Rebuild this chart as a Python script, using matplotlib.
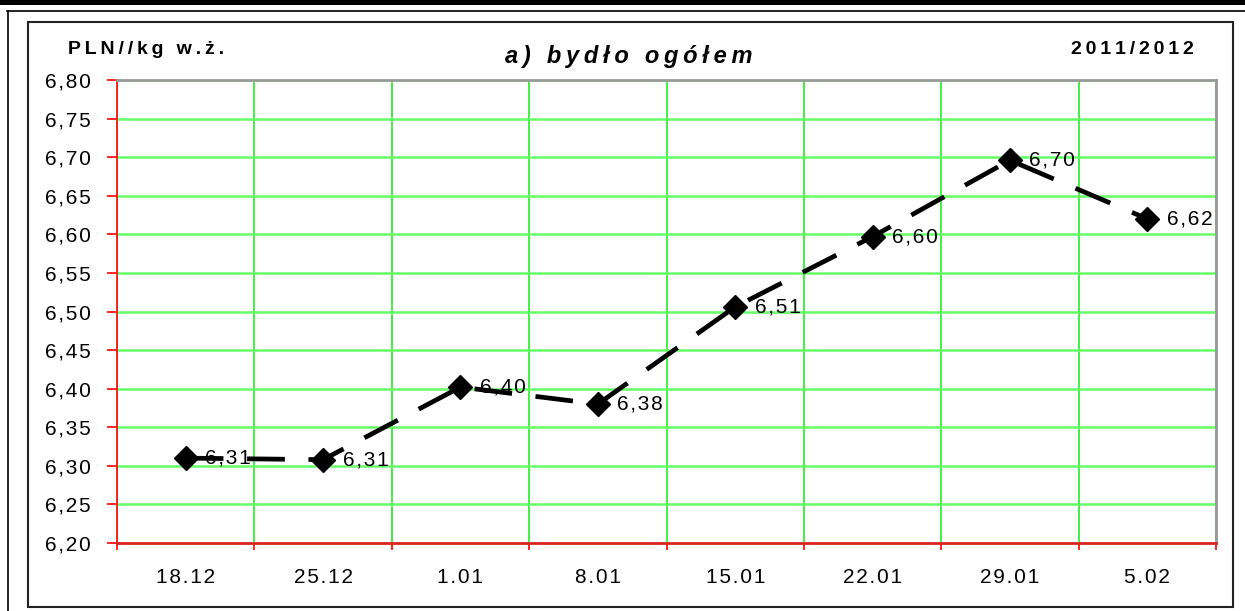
import matplotlib.pyplot as plt
from matplotlib.lines import Line2D
from matplotlib.patches import Rectangle
from matplotlib.ticker import FuncFormatter

plt.rcParams['font.family'] = ['Liberation Sans', 'DejaVu Sans']

# Dane
dates = ['18.12', '25.12', '1.01', '8.01', '15.01', '22.01', '29.01', '5.02']
prices = [6.31, 6.308, 6.402, 6.380, 6.506, 6.597, 6.696, 6.620]
y_ticks = [6.20, 6.25, 6.30, 6.35, 6.40, 6.45, 6.50, 6.55, 6.60, 6.65, 6.70, 6.75, 6.80]

HAIR = '\u200a'
THIN = '\u2009'


def spaced(s, sep=HAIR):
    # rozstrzelony tekst jak w Excelu
    return sep.join(s)


def pl(v):
    return spaced(f'{v:.2f}'.replace('.', ','))


W, H = 1245, 611
fig = plt.figure(figsize=(W / 100, H / 100), dpi=100)

# Ramki wokół wykresu
fig.patches.append(Rectangle((0, 1 - 5 / H), 1, 5 / H, transform=fig.transFigure,
                             facecolor='black', edgecolor='none'))
fig.lines.append(Line2D([7 / W, 1], [1 - 10.5 / H, 1 - 10.5 / H], transform=fig.transFigure,
                        color='black', lw=1.2))
fig.lines.append(Line2D([7.5 / W, 7.5 / W], [0, 1 - 10.5 / H], transform=fig.transFigure,
                        color='black', lw=1.2))
fig.patches.append(Rectangle((28 / W, 1 - 607 / H), (1233 - 28) / W, (607 - 22) / H,
                             transform=fig.transFigure, facecolor='none',
                             edgecolor='#222222', lw=1.5))

ax = fig.add_axes([117 / W, 1 - 543 / H, (1216 - 117) / W, (543 - 80) / H])
x = list(range(len(dates)))

ax.plot(x, prices, color='black', lw=3.4, dashes=(8, 5), marker='D', markersize=12.5,
        markerfacecolor='black', markeredgecolor='black', zorder=5)

for xi, yi in zip(x, prices):
    ax.annotate(pl(yi), (xi, yi), xytext=(14, 0),
                textcoords='offset points', ha='left', va='center', fontsize=15, zorder=6)

ax.set_xlim(-0.5, len(dates) - 0.5)
ax.set_ylim(6.20, 6.80)

# Oś X: kreski między kategoriami, etykiety na środku
ax.set_xticks([i - 0.5 for i in range(len(dates) + 1)])
ax.set_xticklabels([])
ax.set_xticks(x, minor=True)
ax.set_xticklabels([spaced(d) for d in dates], minor=True, fontsize=15)
ax.tick_params(axis='x', which='major', direction='out', length=5, color='red', width=1.2)
ax.tick_params(axis='x', which='minor', length=0, pad=18)

ax.set_yticks(y_ticks)
ax.yaxis.set_major_formatter(FuncFormatter(lambda v, p: pl(v)))
ax.tick_params(axis='y', direction='out', length=7, color='red', width=1.2, labelsize=15, pad=12)

ax.grid(axis='y', color='#66ff66', lw=1.8)
ax.grid(axis='x', which='major', color='#22ee22', lw=1.2)
ax.set_axisbelow(True)

ax.spines['left'].set_color('red')
ax.spines['bottom'].set_color('#dd2222')
ax.spines['left'].set_linewidth(1.2)
ax.spines['bottom'].set_linewidth(2)
ax.spines['top'].set_color('#999999')
ax.spines['right'].set_color('#999999')
ax.spines['top'].set_linewidth(2)
ax.spines['right'].set_linewidth(2)

# Opisy
fig.text(68 / W, 1 - 50 / H, spaced('PLN//kg w.ż.', THIN), fontsize=14, fontweight='bold',
         ha='left', va='center')
fig.text(629 / W, 1 - 57 / H, spaced('a) bydło ogółem', THIN), fontsize=17, fontweight='bold',
         fontstyle='italic', ha='center', va='center')
fig.text(1194 / W, 1 - 50 / H, spaced('2011/2012', THIN), fontsize=14, fontweight='bold',
         ha='right', va='center')

fig.savefig('out.png', dpi=100)
